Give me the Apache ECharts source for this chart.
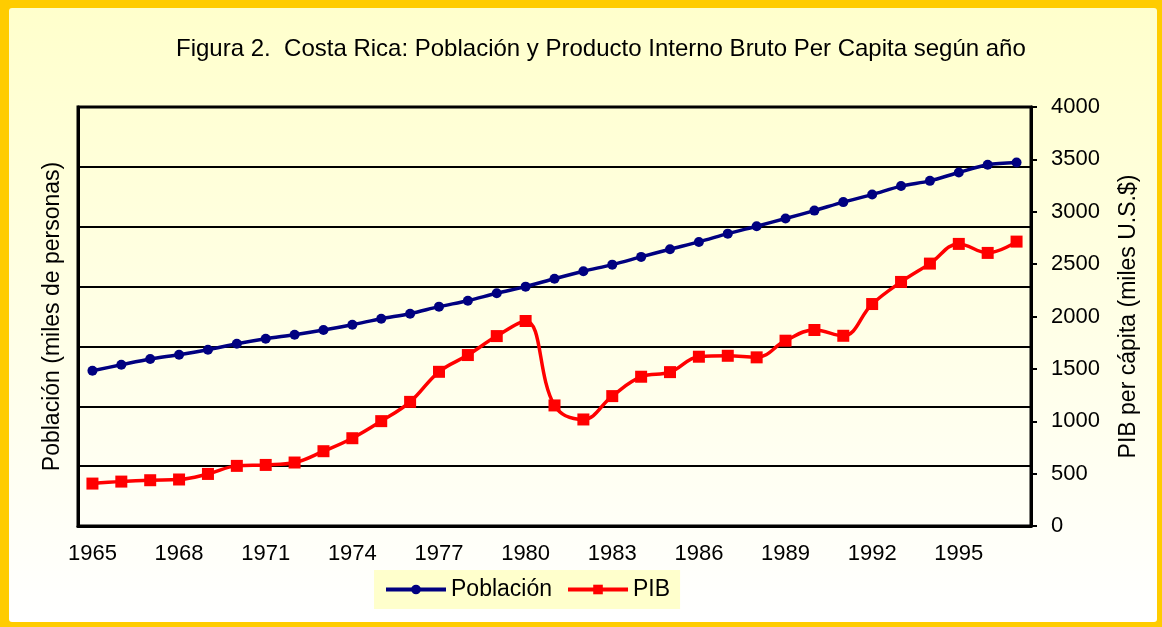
<!DOCTYPE html>
<html>
<head>
<meta charset="utf-8">
<script src="https://cdn.jsdelivr.net/npm/echarts@6/dist/echarts.min.js"></script>
<style>
  html, body { margin: 0; padding: 0; background: #fff; }
  #chart { width: 1162px; height: 627px; }
</style>
</head>
<body>
<div id="chart"></div>
<script>
// años 1965 - 1997
var years = [];
for (var y = 1965; y <= 1997; y++) {
  years.push(String(y));
}

// Población (miles de personas)
var poblacion = [1482, 1539, 1594, 1635, 1683, 1740, 1788, 1826, 1871, 1922,
  1979, 2027, 2094, 2151, 2222, 2285, 2361, 2432, 2495, 2569,
  2642, 2712, 2791, 2862, 2935, 3011, 3092, 3164, 3245, 3295,
  3375, 3448, 3470];

// PIB per cápita
var pib = [405, 424, 437, 444, 497, 574, 583, 606, 714, 838,
  1001, 1185, 1472, 1632, 1813, 1957, 1151, 1017, 1240, 1425,
  1469, 1616, 1625, 1610, 1769, 1871, 1816, 2119, 2330, 2505,
  2693, 2607, 2715];

var fontFamily = 'Liberation Sans, Arial, sans-serif';

var chart = echarts.init(document.getElementById('chart'));

var option = {
  backgroundColor: '#FFCC00',
  textStyle: { fontFamily: fontFamily, color: '#000' },
  graphic: [{
    type: 'rect',
    z: -10,
    silent: true,
    shape: { x: 9, y: 8, width: 1148, height: 614, r: 3 },
    style: {
      fill: new echarts.graphic.LinearGradient(0, 0, 0, 1, [
        { offset: 0, color: '#FFFFCC' },
        { offset: 1, color: '#FFFFFF' }
      ])
    }
  }],
  title: {
    text: 'Figura 2.  Costa Rica: Población y Producto Interno Bruto Per Capita según año',
    left: 171,
    top: 32,
    textStyle: { fontSize: 24, fontWeight: 'normal', color: '#000', fontFamily: fontFamily }
  },
  legend: {
    data: ['Población', 'PIB'],
    left: 374,
    top: 570,
    backgroundColor: '#FFFFCC',
    padding: [8, 10, 8, 10],
    itemWidth: 60,
    itemHeight: 12,
    itemGap: 14,
    lineStyle: { width: 4 },
    textStyle: { fontSize: 23, color: '#000', fontFamily: fontFamily }
  },
  grid: {
    left: 78,
    right: 131,
    top: 107,
    bottom: 101,
    show: true,
    borderColor: '#000',
    borderWidth: 3,
    backgroundColor: 'transparent'
  },
  xAxis: {
    type: 'category',
    data: years,
    boundaryGap: true,
    axisLine: { lineStyle: { color: '#000', width: 3 } },
    axisTick: { interval: 0, length: 6, lineStyle: { color: '#000', width: 2 } },
    axisLabel: { interval: 2, fontSize: 22, color: '#000', margin: 17 }
  },
  yAxis: [{
    type: 'value',
    position: 'left',
    min: 0,
    max: 7,
    interval: 1,
    name: 'Población (miles de personas)',
    nameLocation: 'middle',
    nameGap: 14,
    nameTextStyle: { fontSize: 23, color: '#000' },
    axisLine: { show: true, lineStyle: { color: '#000', width: 3 } },
    axisTick: { show: false },
    axisLabel: { show: false },
    splitLine: { show: true, lineStyle: { color: '#000', width: 2 } }
  }, {
    type: 'value',
    position: 'right',
    min: 0,
    max: 4000,
    interval: 500,
    name: 'PIB per cápita (miles U.S.$)',
    nameLocation: 'middle',
    nameGap: 86,
    nameRotate: 90,
    nameTextStyle: { fontSize: 23, color: '#000' },
    axisLine: { show: true, lineStyle: { color: '#000', width: 3 } },
    axisTick: { show: true, length: 6, lineStyle: { color: '#000', width: 2 } },
    axisLabel: {
      fontSize: 22,
      color: '#000',
      margin: 20,
      formatter: function (v) { return String(v); }
    },
    splitLine: { show: false }
  }],
  series: [{
    name: 'Población',
    type: 'line',
    yAxisIndex: 1,
    data: poblacion,
    smooth: 0.3,
    symbol: 'circle',
    symbolSize: 10,
    color: '#000080',
    lineStyle: { color: '#000080', width: 3.5 },
    itemStyle: { color: '#000080' },
    animation: false
  }, {
    name: 'PIB',
    type: 'line',
    yAxisIndex: 1,
    data: pib,
    smooth: 0.4,
    symbol: 'rect',
    symbolSize: 12,
    color: '#FF0000',
    lineStyle: { color: '#FF0000', width: 3.5 },
    itemStyle: { color: '#FF0000' },
    animation: false
  }]
};

chart.setOption(option);
</script>
</body>
</html>
